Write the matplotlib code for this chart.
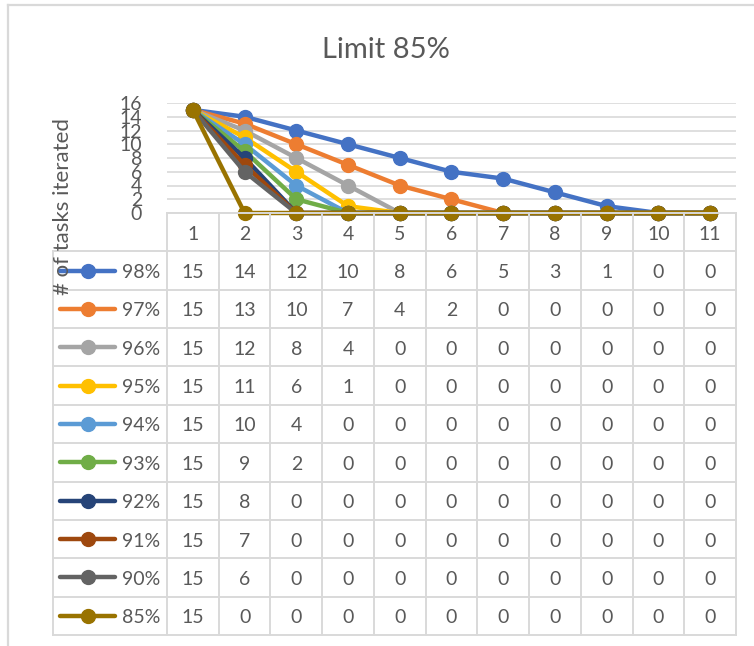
import matplotlib
matplotlib.use("Agg")
import matplotlib.pyplot as plt
from matplotlib.lines import Line2D

plt.rcParams['font.family'] = ['Lato', 'DejaVu Sans']

iterations = [1, 2, 3, 4, 5, 6, 7, 8, 9, 10, 11]
series_labels = ["98%", "97%", "96%", "95%", "94%", "93%", "92%", "91%", "90%", "85%"]
s98 = [15, 14, 12, 10, 8, 6, 5, 3, 1, 0, 0]
s97 = [15, 13, 10, 7, 4, 2, 0, 0, 0, 0, 0]
s96 = [15, 12, 8, 4, 0, 0, 0, 0, 0, 0, 0]
s95 = [15, 11, 6, 1, 0, 0, 0, 0, 0, 0, 0]
s94 = [15, 10, 4, 0, 0, 0, 0, 0, 0, 0, 0]
s93 = [15, 9, 2, 0, 0, 0, 0, 0, 0, 0, 0]
s92 = [15, 8, 0, 0, 0, 0, 0, 0, 0, 0, 0]
s91 = [15, 7, 0, 0, 0, 0, 0, 0, 0, 0, 0]
s90 = [15, 6, 0, 0, 0, 0, 0, 0, 0, 0, 0]
s85 = [15, 0, 0, 0, 0, 0, 0, 0, 0, 0, 0]
series_values = [s98, s97, s96, s95, s94, s93, s92, s91, s90, s85]
colors = ["#4472C4", "#ED7D31", "#A5A5A5", "#FFC000", "#5B9BD5",
          "#70AD47", "#264478", "#9E480E", "#636363", "#997300"]
y_ticks = [0, 2, 4, 6, 8, 10, 12, 14, 16]

W, H = 754, 646
fig = plt.figure(figsize=(W / 100, H / 100), dpi=100)
fig.patch.set_facecolor("white")

def fx(px):
    return px / W

def fy(py):
    return 1 - py / H

text_color = "#595959"
grid_color = "#d9d9d9"

# chart frame (left and top edges)
fig.add_artist(Line2D([fx(8), fx(8)], [fy(5), 0], color=grid_color, lw=1.6))
fig.add_artist(Line2D([fx(8), 1], [fy(5), fy(5)], color=grid_color, lw=1.6))

# plot area
px_left, px_right, px_top, px_bottom = 167, 736, 103, 213
ax = fig.add_axes([fx(px_left), fy(px_bottom), (px_right - px_left) / W,
                   (px_bottom - px_top) / H])
ax.set_xlim(0.5, 11.5)
ax.set_ylim(0, 16)
ax.set_yticks(y_ticks)
ax.set_xticks([])
ax.tick_params(axis="y", length=0, pad=18, labelsize=14, labelcolor=text_color)
for sp in ax.spines.values():
    sp.set_visible(False)
for t in y_ticks:
    ax.axhline(t, color=grid_color, lw=1.2, zorder=0)

for vals, col in zip(series_values, colors):
    ax.plot(iterations, vals, color=col, lw=3.2, marker="o", markersize=10,
            clip_on=False, zorder=3)

# data table beneath the plot
col_w = (px_right - px_left) / 11
tbl_left_px, tbl_bottom_px = 53, 635
x_left = 0.5 - (px_left - tbl_left_px) / col_w
tax = fig.add_axes([fx(tbl_left_px), fy(tbl_bottom_px),
                    (px_right - tbl_left_px) / W,
                    (tbl_bottom_px - px_bottom) / H])
n_rows = len(series_labels) + 1
tax.set_xlim(x_left, 11.5)
tax.set_ylim(n_rows, 0)
tax.axis("off")

lw_tbl = 1.4
for k in range(12):
    tax.plot([0.5 + k, 0.5 + k], [0, n_rows], color=grid_color, lw=lw_tbl, clip_on=False)
tax.plot([x_left, x_left], [1, n_rows], color=grid_color, lw=lw_tbl, clip_on=False)
tax.plot([0.5, 11.5], [0, 0], color=grid_color, lw=lw_tbl, clip_on=False)
for r in range(1, n_rows + 1):
    tax.plot([x_left, 11.5], [r, r], color=grid_color, lw=lw_tbl, clip_on=False)

for i in iterations:
    tax.text(i, 0.55, str(i), ha="center", va="center", fontsize=14, color=text_color)

def px2x(px):
    return x_left + (px - tbl_left_px) / col_w

for r, (lab, vals, col) in enumerate(zip(series_labels, series_values, colors)):
    yc = r + 1.55
    tax.plot([px2x(60), px2x(115)], [r + 1.5, r + 1.5], color=col, lw=3.2,
             solid_capstyle="round", clip_on=False)
    tax.plot([px2x(88)], [r + 1.5], marker="o", markersize=10, color=col, clip_on=False)
    tax.text(px2x(160), yc, lab, ha="right", va="center", fontsize=14, color=text_color)
    for i, v in zip(iterations, vals):
        tax.text(i, yc, str(v), ha="center", va="center", fontsize=14, color=text_color)

fig.text(fx(63), fy(207), "# of tasks iterated", rotation=90, ha="center",
         va="center", fontsize=16, color=text_color)
fig.text(fx(386), fy(50), "Limit 85%", ha="center", va="center",
         fontsize=21, color=text_color)

fig.savefig("out.png", dpi=100, facecolor="white")
